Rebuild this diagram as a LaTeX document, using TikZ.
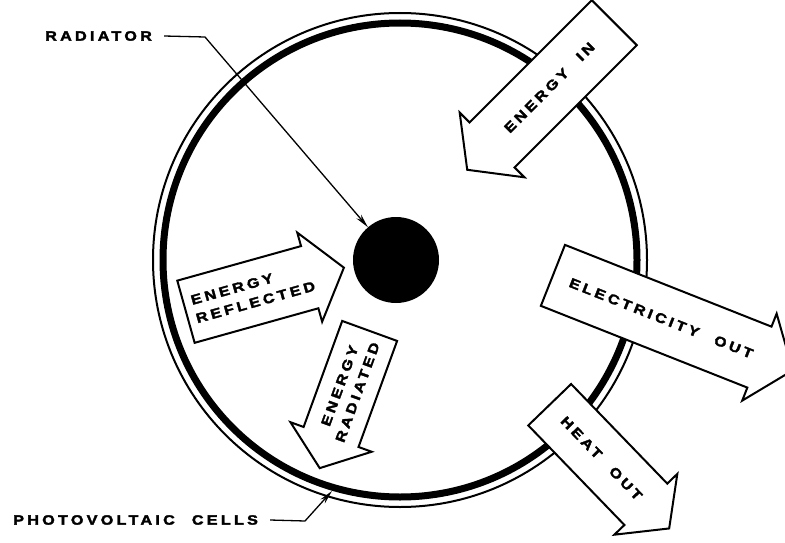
\documentclass[tikz,border=0pt]{standalone}
\usepackage{fontspec}
\setmainfont{Liberation Sans}
\newfontfamily\labfont{Liberation Sans}[LetterSpace=24,FakeStretch=1.2,WordSpace=2.2,FakeBold=2.5]
\usetikzlibrary{shapes.arrows,arrows.meta}

\begin{document}
\begin{tikzpicture}[x=1pt,y=-1pt,
  lab/.style={font=\labfont\bfseries\fontsize{13.5}{19}\selectfont,inner sep=0pt},
  blockarrow/.style={single arrow,draw=black,fill=white,line width=2pt,lab,inner xsep=6pt,
    single arrow head extend=14pt,single arrow tip angle=105},
  leader/.style={line width=1.3pt,-{Stealth[length=14pt,width=6pt]}}]
\useasboundingbox (0,0) rectangle (785,543);
\draw [line width=2pt] (400,260) circle (247pt);
\draw [line width=7pt] (400,260) circle (237pt);
\node[circle,fill=black,minimum size=86pt,inner sep=0pt] (sph) at (396,260) {};
\node[blockarrow,rotate=45,shape border rotate=180,minimum height=208pt,inner ysep=26pt,anchor=tail] (ein) at (615,22) {ENERGY IN};
\node[blockarrow,rotate=15.6,minimum height=164pt,inner ysep=17pt,align=left,anchor=tail] (eref) at (185,312) {ENERGY\\REFLECTED};
\node[blockarrow,rotate=70,shape border rotate=180,minimum height=146pt,inner ysep=14pt,align=center,anchor=tail] (erad) at (370,330) {ENERGY\\RADIATED};
\node[blockarrow,rotate=-21.6,minimum height=258pt,inner ysep=27pt,anchor=tail] (eout) at (552,275) {ELECTRICITY OUT};
\node[blockarrow,rotate=-46,minimum height=172pt,inner ysep=24pt,anchor=tail] (hout) at (549,404) {HEAT OUT};
\node[lab,anchor=west] (radlab) at (45,36) {RADIATOR};
\coordinate (radbend) at (205,37);
\draw[leader] ([xshift=12pt]radlab.east) -- (radbend) -- (sph);
\node[lab,anchor=west] (pvlab) at (13,520) {PHOTOVOLTAIC CELLS};
\coordinate (pvbend) at (305,521);
\coordinate (pvtip) at (332,491);
\draw[leader] ([xshift=12pt]pvlab.east) -- (pvbend) -- (pvtip);
\end{tikzpicture}
\end{document}
